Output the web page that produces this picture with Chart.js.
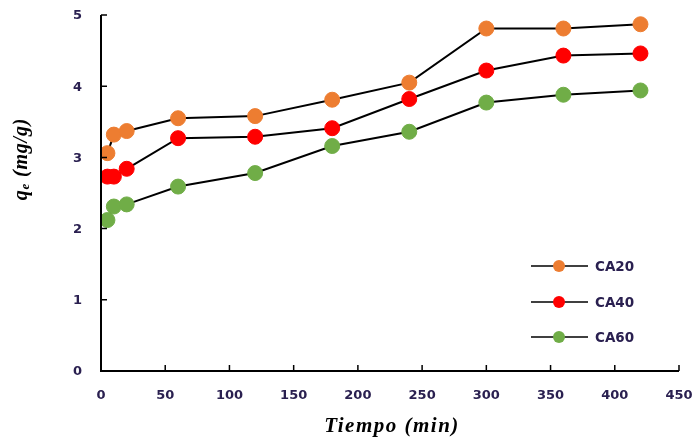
<!DOCTYPE html>
<html><head><meta charset="utf-8">
<script src="https://cdn.jsdelivr.net/npm/chart.js@4/dist/chart.umd.min.js"></script>
<style>html,body{margin:0;padding:0;background:#fff;}#wrap{width:692px;height:439px;}</style>
</head><body><div id="wrap"><canvas id="c" width="692" height="439"></canvas></div>
<script>
const times = [5, 10, 20, 60, 120, 180, 240, 300, 360, 420];
const ca20 = [3.06, 3.32, 3.37, 3.55, 3.58, 3.81, 4.05, 4.81, 4.81, 4.87];
const ca40 = [2.73, 2.73, 2.84, 3.27, 3.29, 3.41, 3.82, 4.22, 4.43, 4.46];
const ca60 = [2.12, 2.31, 2.34, 2.59, 2.78, 3.16, 3.36, 3.77, 3.88, 3.94];
const seriesNames = ['CA20', 'CA40', 'CA60'];
const seriesColors = ['#ED7D31', '#FF0000', '#70AD47'];
const xTicks = [0, 50, 100, 150, 200, 250, 300, 350, 400, 450];
const yTicks = [0, 1, 2, 3, 4, 5];
const xTitle = 'Tiempo (min)';

const tickFont = 'bold 13px "DejaVu Sans", Verdana, sans-serif';
const legFont = 'bold 13.5px "DejaVu Sans", Verdana, sans-serif';
const tickColor = '#2a2050';

function mk(vals, i) {
  return {
    label: seriesNames[i],
    data: times.map((t, k) => ({x: t, y: vals[k]})),
    borderColor: '#000',
    borderWidth: 2,
    backgroundColor: seriesColors[i],
    pointBackgroundColor: seriesColors[i],
    pointBorderColor: seriesColors[i],
    pointBorderWidth: 1,
    pointRadius: 7.5,
    pointHoverRadius: 7.5,
    tension: 0,
    fill: false
  };
}

const deco = {
  id: 'deco',
  afterDraw(chart) {
    const ctx = chart.ctx;
    const xs = chart.scales.x, ys = chart.scales.y;
    const a = chart.chartArea;
    ctx.save();
    ctx.strokeStyle = '#000';
    ctx.lineWidth = 2;
    ctx.beginPath();
    ctx.moveTo(a.left, a.top); ctx.lineTo(a.left, a.bottom); ctx.lineTo(a.right, a.bottom);
    ctx.stroke();
    ctx.lineWidth = 1.5;
    ctx.beginPath();
    xTicks.forEach(v => { const p = xs.getPixelForValue(v); ctx.moveTo(p, a.bottom); ctx.lineTo(p, a.bottom - 6); });
    yTicks.forEach(v => { const p = ys.getPixelForValue(v); ctx.moveTo(a.left, p); ctx.lineTo(a.left + 6, p); });
    ctx.stroke();
    ctx.fillStyle = tickColor;
    ctx.font = tickFont;
    ctx.textAlign = 'center'; ctx.textBaseline = 'middle';
    xTicks.forEach(v => ctx.fillText(String(v), xs.getPixelForValue(v), a.bottom + 25));
    ctx.textAlign = 'right';
    yTicks.forEach(v => ctx.fillText(String(v), a.left - 19, ys.getPixelForValue(v) + 1));
    // x title
    ctx.fillStyle = '#000';
    ctx.font = 'italic bold 21px "Liberation Serif", "Times New Roman", serif';
    ctx.letterSpacing = '1.5px';
    ctx.textAlign = 'center';
    ctx.textBaseline = 'alphabetic';
    ctx.fillText(xTitle, (a.left + a.right) / 2 + 2, 432);
    // y title with subscript
    ctx.save();
    ctx.translate(22, 159);
    ctx.rotate(-Math.PI / 2);
    ctx.textAlign = 'left';
    ctx.textBaseline = 'middle';
    ctx.letterSpacing = '0.8px';
    const f1 = 'italic bold 20px "Liberation Serif", "Times New Roman", serif';
    const f2 = 'italic bold 13px "Liberation Serif", "Times New Roman", serif';
    const parts = [['q', f1, 0], ['e', f2, 4], [' (mg/g)', f1, 0]];
    let w = 0;
    parts.forEach(p => { ctx.font = p[1]; w += ctx.measureText(p[0]).width; });
    let x = -w / 2;
    parts.forEach(p => { ctx.font = p[1]; ctx.fillText(p[0], x, p[2]); x += ctx.measureText(p[0]).width; });
    ctx.restore();
    ctx.letterSpacing = '0px';
    // legend
    const ly = [266, 302, 337];
    ctx.textBaseline = 'middle';
    chart.data.datasets.forEach((d, i) => {
      ctx.strokeStyle = '#000'; ctx.lineWidth = 1.5;
      ctx.beginPath(); ctx.moveTo(531, ly[i]); ctx.lineTo(588, ly[i]); ctx.stroke();
      ctx.fillStyle = seriesColors[i];
      ctx.beginPath(); ctx.arc(559, ly[i], 6, 0, Math.PI * 2); ctx.fill();
      ctx.fillStyle = tickColor; ctx.font = legFont; ctx.textAlign = 'left';
      ctx.fillText(d.label, 595, ly[i] + 1);
    });
    ctx.restore();
  }
};

new Chart(document.getElementById('c'), {
  type: 'line',
  data: { datasets: [mk(ca20, 0), mk(ca40, 1), mk(ca60, 2)] },
  options: {
    responsive: false,
    animation: false,
    layout: { padding: { top: 15, right: 13, left: 0, bottom: 0 } },
    plugins: { legend: { display: false }, tooltip: { enabled: false } },
    scales: {
      x: {
        type: 'linear', min: 0, max: 450,
        afterFit(s) { s.height = 68; },
        grid: { display: false },
        border: { display: false },
        ticks: { display: false, stepSize: 50 }
      },
      y: {
        min: 0, max: 5,
        afterFit(s) { s.width = 101; },
        grid: { display: false },
        border: { display: false },
        ticks: { display: false, stepSize: 1 }
      }
    }
  },
  plugins: [deco]
});
</script></body></html>
